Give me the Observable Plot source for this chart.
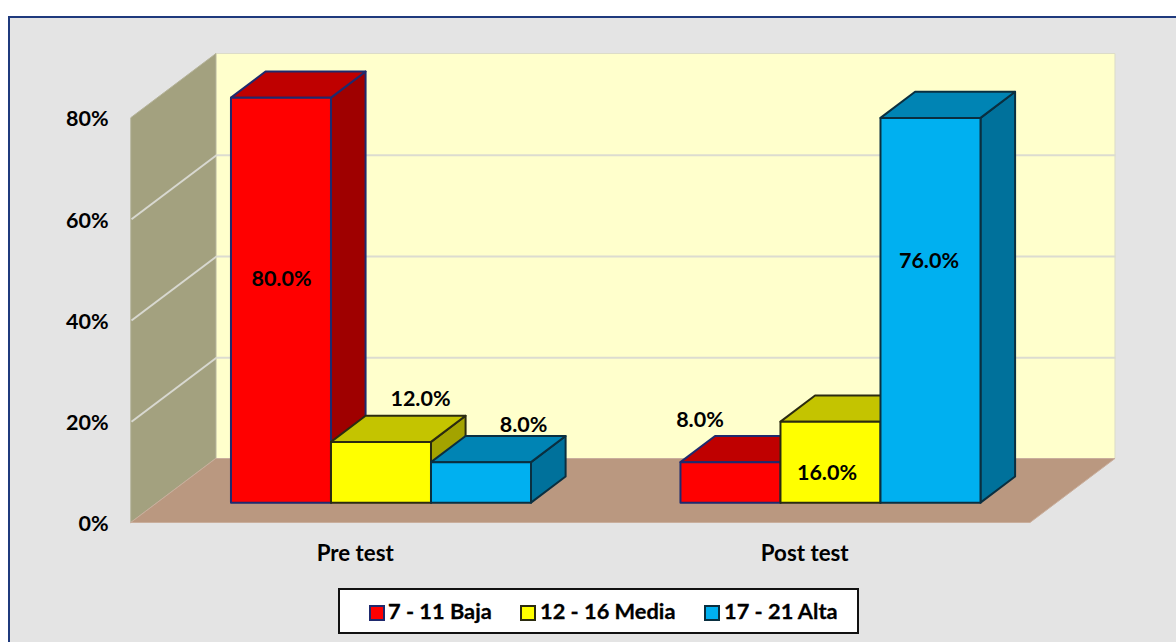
<!DOCTYPE html>
<html>
<head>
<meta charset="utf-8">
<script src="https://cdn.jsdelivr.net/npm/d3@7"></script>
<script src="https://cdn.jsdelivr.net/npm/@observablehq/plot@0.6"></script>
<style>
  html, body { margin: 0; padding: 0; background: #fff; overflow: hidden; width: 1176px; height: 642px; }
  #panel { position: absolute; left: 8px; top: 16px; width: 1300px; height: 800px; background: #e4e4e4; border: 2px solid #1f3a7d; box-sizing: border-box; }
  #chart { position: absolute; left: 0; top: 0; }
  #chart svg text { -webkit-text-stroke: 0.3px #000; }
  #legend { position: absolute; left: 338px; top: 588px; width: 521px; height: 46px; box-sizing: border-box; background: #fff; border: 2px solid #111; font: bold 21.8px Lato, sans-serif; color: #000; -webkit-text-stroke: 0.3px #000; }
  #legend .sw { position: absolute; top: 15px; width: 12px; height: 12px; border: 2px solid #111; }
  #legend .lb { position: absolute; top: 9px; line-height: 24px; white-space: nowrap; }
</style>
</head>
<body>
<div id="panel"></div>
<div id="chart"></div>
<div id="legend"></div>
<script>
const categories = ["Pre test", "Post test"];
const seriesNames = ["7 - 11 Baja", "12 - 16 Media", "17 - 21 Alta"];
const preTest = [80, 12, 8];
const postTest = [8, 16, 76];
const yTicks = [0, 20, 40, 60, 80];

// Appearance
const faceColors = [
  {front: "#ff0000", top: "#bf0000", side: "#9f0000", edge: "#1f2a6e"},
  {front: "#ffff00", top: "#c4c400", side: "#a3a300", edge: "#2b2b10"},
  {front: "#00b0f0", top: "#0084b4", side: "#00719b", edge: "#0a2f40"}
];
const labelNudge = [
  [[0, 181], [39, -43], [42, -38]],
  [[-31, -43], [-4, 51], [-2, 143]]
];

// Oblique projection, in data units of the x and y scales
const wallDX = 0.189, wallDY = 12.64;          // full depth of the floor
const barFront = 0.3105, barBack = 0.7177;     // bar depth, as a fraction of the floor
const barStart = 0.1637, barWidth = 0.2225;
const px = (x, d) => x + d * wallDX;
const py = (v, d) => v + d * wallDY;

const quad = (id, a, b, c, d, fill, stroke) => [
  {id, x1: a[0], y1: a[1], x2: d[0], y2: d[1], fill, stroke},
  {id, x1: b[0], y1: b[1], x2: c[0], y2: c[1], fill, stroke}
];

const wall = [
  ...quad("back",  [px(0,1), py(0,1)], [px(2,1), py(0,1)], [px(2,1), py(80,1)], [px(0,1), py(80,1)], "#ffffcc", "#dcdcc8"),
  ...quad("left",  [0, 0], [px(0,1), py(0,1)], [px(0,1), py(80,1)], [0, 80], "#a3a17f", "#b5b39a"),
  ...quad("floor", [0, 0], [2, 0], [px(2,1), py(0,1)], [px(0,1), py(0,1)], "#ba9880", "#c9ae9c")
];

const bars = [];
const faces = [];
[preTest, postTest].forEach((vals, c) => vals.forEach((v, s) => {
  const x0 = c + barStart + s * barWidth, x1 = x0 + barWidth;
  const col = faceColors[s], id = `${c}-${s}`;
  const P = (x, val, d) => [px(x, d), py(val, d)];
  bars.push({x: px((x0 + x1) / 2, barFront), y: py(v, barFront), text: v.toFixed(1) + "%", nudge: labelNudge[c][s]});
  faces.push(
    ...quad(id + "s", P(x1,0,barFront), P(x1,0,barBack), P(x1,v,barBack), P(x1,v,barFront), col.side, col.edge),
    ...quad(id + "t", P(x0,v,barFront), P(x1,v,barFront), P(x1,v,barBack), P(x0,v,barBack), col.top, col.edge),
    ...quad(id + "f", P(x0,0,barFront), P(x1,0,barFront), P(x1,v,barFront), P(x0,v,barFront), col.front, col.edge)
  );
}));

const gridTicks = yTicks.filter(t => t > 0 && t < 80);
const areaOpts = {x1: "x1", y1: "y1", x2: "x2", y2: "y2", z: "id", fill: "fill", stroke: "stroke"};

const chart = Plot.plot({
  width: 1176,
  height: 580,
  marginLeft: 131,
  marginRight: 146,
  marginTop: 117.5,
  marginBottom: 57.5,
  style: {background: "transparent", fontFamily: "Lato, sans-serif", fontWeight: "bold", fontSize: "21.5px", color: "#000"},
  x: {domain: [0, 2]},
  y: {domain: [0, 80]},
  color: {type: "identity"},
  marks: [
    Plot.area(wall, {...areaOpts, strokeWidth: 1}),
    Plot.link(gridTicks, {x1: px(0,1), x2: px(2,1), y1: t => py(t,1), y2: t => py(t,1), stroke: "#dcdcd0", strokeWidth: 2}),
    Plot.link(gridTicks, {x1: 0, x2: px(0,1), y1: t => t, y2: t => py(t,1), stroke: "#d8d8d0", strokeWidth: 2}),
    Plot.area(faces, {...areaOpts, strokeWidth: 2, strokeLinejoin: "round"}),
    ...bars.map(b => Plot.text([b], {x: "x", y: "y", text: "text", dx: b.nudge[0], dy: b.nudge[1], fill: "#000"})),
    Plot.axisY({ticks: yTicks, tickFormat: d => d + "%", tickSize: 0, tickPadding: 23, label: null, fill: "#000", dy: 1.5}),
    Plot.axisX({ticks: [0.5, 1.5], tickFormat: d => categories[Math.floor(d)], tickSize: 0, tickPadding: 22, label: null, fill: "#000", fontSize: 22.3, dx: -1})
  ]
});
document.getElementById("chart").append(chart);

const legend = document.getElementById("legend");
const swatchX = [29, 180, 364], labelX = [48, 200, 384];
seriesNames.forEach((name, i) => {
  const sw = document.createElement("span");
  sw.className = "sw";
  sw.style.left = swatchX[i] + "px";
  sw.style.background = faceColors[i].front;
  sw.style.borderColor = faceColors[i].edge;
  const lb = document.createElement("span");
  lb.className = "lb";
  lb.style.left = labelX[i] + "px";
  lb.textContent = name;
  legend.append(sw, lb);
});
</script>
</body>
</html>
